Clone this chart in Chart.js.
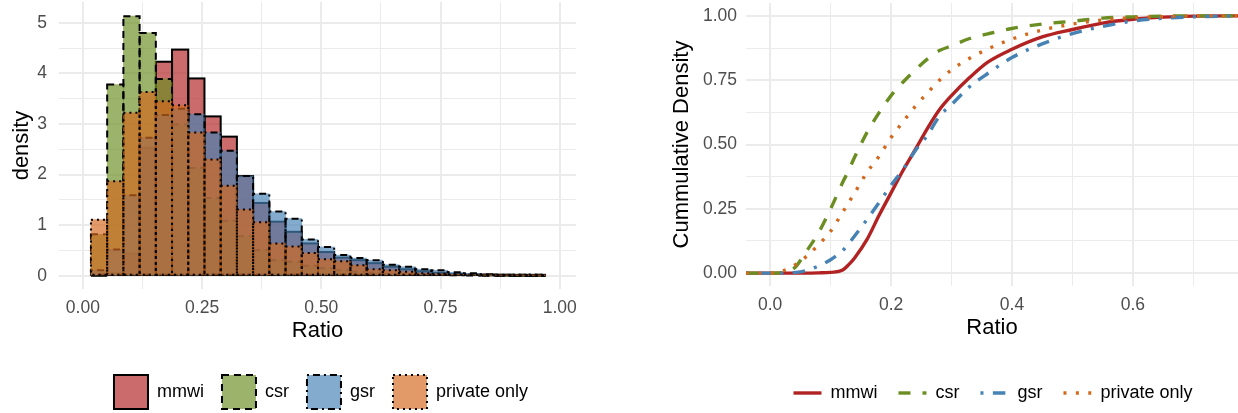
<!DOCTYPE html>
<html lang="en">
<head>
<meta charset="UTF-8">
<title>Ratio: density and cumulative density</title>
<script src="https://cdn.jsdelivr.net/npm/chart.js"></script>
<style>
  html, body { margin: 0; padding: 0; background: #fff; overflow: hidden; }
  .panel { position: absolute; top: 0; height: 413px; }
  #left { left: 0; width: 620px; }
  #right { left: 620px; width: 618px; }
</style>
</head>
<body>

<div class="panel" id="left"><canvas id="histChart"></canvas></div>
<div class="panel" id="right"><canvas id="ecdfChart"></canvas></div>

<script>
// groups, in legend order
const groups = ['mmwi', 'csr', 'gsr', 'private only'];

// histogram: bin centres and density per group
const binMids = [0.034, 0.068, 0.102, 0.136, 0.170, 0.204, 0.238, 0.272, 0.306, 0.340,
                 0.374, 0.408, 0.442, 0.476, 0.510, 0.544, 0.578, 0.612, 0.646, 0.680,
                 0.714, 0.748, 0.782, 0.816, 0.850, 0.884, 0.918, 0.952];
const mmwiDensity = [0, 0.05, 0.44, 2.53, 4.23, 4.47, 3.90, 3.15, 2.75, 1.97, 1.44, 1.07, 0.87, 0.64,
                     0.47, 0.36, 0.31, 0.25, 0.18, 0.13, 0.09, 0.06, 0.03, 0.02, 0.01, 0.005, 0.003, 0.002];
const csrDensity = [0.82, 3.78, 5.13, 4.80, 3.89, 2.99, 2.13, 1.54, 1.09, 0.78, 0.51, 0.31, 0.28, 0.20,
                    0.15, 0.11, 0.08, 0.06, 0.04, 0.03, 0.02, 0.015, 0.01, 0.005, 0.003, 0, 0, 0];
const gsrDensity = [0.11, 0.52, 1.59, 2.73, 3.18, 3.30, 3.19, 2.83, 2.47, 1.97, 1.62, 1.27, 1.13, 0.72,
                    0.57, 0.41, 0.35, 0.31, 0.22, 0.18, 0.13, 0.11, 0.07, 0.05, 0.03, 0.02, 0.01, 0.01];
const privateDensity = [1.11, 1.87, 3.22, 3.63, 3.45, 3.37, 2.83, 2.30, 1.78, 1.31, 1.06, 0.64, 0.58, 0.45,
                        0.33, 0.29, 0.21, 0.13, 0.11, 0.08, 0.05, 0.04, 0.03, 0.02, 0.01, 0.01, 0.005, 0.005];

// cumulative density, read at these ratios
const ratioGrid = [-0.04, 0, 0.02, 0.04, 0.06, 0.08, 0.10, 0.12, 0.13, 0.14, 0.16, 0.18, 0.20, 0.22,
                   0.24, 0.26, 0.28, 0.30, 0.33, 0.36, 0.40, 0.45, 0.50, 0.55, 0.60, 0.65, 0.70, 0.774];
const mmwiCdf = [0, 0, 0, 0, 0, 0.001, 0.003, 0.012, 0.033, 0.06, 0.13, 0.224, 0.312, 0.40,
                 0.48, 0.562, 0.635, 0.69, 0.76, 0.82, 0.87, 0.918, 0.947, 0.972, 0.987, 0.995, 0.999, 1];
const csrCdf = [0, 0, 0.002, 0.02, 0.085, 0.157, 0.25, 0.353, 0.40, 0.452, 0.546, 0.623, 0.69, 0.743,
                0.79, 0.832, 0.865, 0.883, 0.912, 0.93, 0.951, 0.968, 0.979, 0.991, 0.996, 0.999, 1, 1];
const gsrCdf = [0, 0, 0, 0.002, 0.01, 0.028, 0.052, 0.088, 0.115, 0.145, 0.208, 0.274, 0.341, 0.404,
                0.476, 0.535, 0.61, 0.655, 0.725, 0.776, 0.838, 0.891, 0.931, 0.959, 0.98, 0.991, 0.996, 1];
const privateCdf = [0, 0, 0.008, 0.03, 0.065, 0.11, 0.163, 0.237, 0.275, 0.313, 0.391, 0.454, 0.527, 0.589,
                    0.648, 0.70, 0.75, 0.79, 0.835, 0.871, 0.91, 0.945, 0.968, 0.984, 0.993, 0.997, 1, 1];

// styling
const lineColors = ['#B22222', '#6B8E23', '#4682B4', '#D2691E'];
const fillColors = ['rgba(178,34,34,0.67)', 'rgba(107,142,35,0.67)', 'rgba(70,130,180,0.67)', 'rgba(210,105,30,0.67)'];
const histDashes = [[], [7, 5], [2, 4, 7, 4], [2, 4]];
const lineDashes = [[], [12, 12], [3, 9.4, 12.5, 9.4], [3, 9.4]];
const gridColor = '#EBEBEB';
const tickColor = '#4D4D4D';

Chart.defaults.font.family = '"Liberation Sans", Arial, sans-serif';
Chart.defaults.color = '#000';

const isMultiple = (v, step) => Math.abs(v / step - Math.round(v / step)) < 1e-6;

// dashed/dotted black outlines, drawn right after each group's fill (like ggplot)
const histOutline = {
  id: 'histOutline',
  afterDatasetDraw(chart, args) {
    const ds = chart.data.datasets[args.index];
    const ctx = chart.ctx;
    ctx.save();
    ctx.strokeStyle = '#000';
    ctx.lineWidth = 2;
    ctx.setLineDash(ds.outlineDash);
    args.meta.data.forEach(bar => {
      const {x, y, base, width} = bar.getProps(['x', 'y', 'base', 'width'], true);
      ctx.strokeRect(x - width / 2, y, width, base - y);
    });
    ctx.restore();
  }
};

// ggplot centres the legend under the whole panel, not under the plot area
const legendShift = {
  id: 'legendShift',
  afterLayout(chart, args, opts) {
    const lg = chart.legend;
    lg.left += opts.dx; lg.right += opts.dx;
    lg.top += opts.dy; lg.bottom += opts.dy;
  }
};

const histSeries = [mmwiDensity, csrDensity, gsrDensity, privateDensity];
const cdfSeries = [mmwiCdf, csrCdf, gsrCdf, privateCdf];

new Chart(document.getElementById('histChart'), {
  type: 'bar',
  data: {
    datasets: groups.map((g, i) => ({
      label: g,
      data: binMids.map((m, j) => ({x: m, y: histSeries[i][j]})),
      backgroundColor: fillColors[i],
      borderWidth: 0,
      outlineDash: histDashes[i],
      order: groups.length - 1 - i,
      grouped: false,
      barPercentage: 1,
      categoryPercentage: 1
    }))
  },
  options: {
    responsive: true,
    maintainAspectRatio: false,
    devicePixelRatio: 1,
    animation: false,
    events: [],
    layout: { padding: { top: 2, right: 44, bottom: 7, left: 0 }, autoPadding: false },
    scales: {
      x: {
        type: 'linear', min: -0.05, max: 1.034, offset: false,
        grid: { offset: false, color: gridColor, drawTicks: false,
                lineWidth: c => isMultiple(c.tick.value, 0.25) ? 2 : 1 },
        border: { display: false },
        ticks: { stepSize: 0.125, includeBounds: false, autoSkip: false, maxRotation: 0,
                 padding: 9, color: tickColor, font: { size: 17.5 },
                 callback: v => isMultiple(v, 0.25) ? v.toFixed(2) : '' },
        title: { display: true, text: 'Ratio', font: { size: 22 }, padding: { top: 0, bottom: 0 } },
        afterFit: s => { s.height = 55; s.paddingLeft = 0; s.paddingRight = 0; }
      },
      y: {
        type: 'linear', min: -0.26, max: 5.41,
        grid: { color: gridColor, drawTicks: false,
                lineWidth: c => isMultiple(c.tick.value, 1) ? 2 : 1 },
        border: { display: false },
        ticks: { stepSize: 0.5, includeBounds: false, autoSkip: false, padding: 12,
                 color: tickColor, font: { size: 17.5 },
                 callback: v => isMultiple(v, 1) ? v.toFixed(0) : '' },
        title: { display: true, text: 'density', font: { size: 22 }, padding: { top: 8.5, bottom: 0 } },
        afterFit: s => { s.width = 59; s.paddingTop = 0; s.paddingBottom = 0; }
      }
    },
    plugins: {
      tooltip: { enabled: false },
      legendShift: { dx: 33, dy: 13 },
      legend: {
        position: 'bottom',
        labels: {
          boxWidth: 34, boxHeight: 34, padding: 18, font: { size: 18 }, color: '#000',
          generateLabels: chart => chart.data.datasets.map((ds, i) => ({
            text: ds.label, fillStyle: ds.backgroundColor, strokeStyle: '#000',
            lineWidth: 2, lineDash: ds.outlineDash, hidden: false, datasetIndex: i, fontColor: '#000'
          }))
        }
      }
    }
  },
  plugins: [histOutline, legendShift]
});

new Chart(document.getElementById('ecdfChart'), {
  type: 'line',
  data: {
    datasets: groups.map((g, i) => ({
      label: g,
      data: ratioGrid.map((r, j) => ({x: r, y: cdfSeries[i][j]})),
      borderColor: lineColors[i],
      backgroundColor: lineColors[i],
      borderWidth: 3.4,
      borderDash: lineDashes[i],
      borderCapStyle: 'butt',
      cubicInterpolationMode: 'monotone',
      pointRadius: 0,
      fill: false,
      order: groups.length - 1 - i
    }))
  },
  options: {
    responsive: true,
    maintainAspectRatio: false,
    devicePixelRatio: 1,
    animation: false,
    events: [],
    layout: { padding: { top: 3, right: 0, bottom: 23, left: 0 }, autoPadding: false },
    scales: {
      x: {
        type: 'linear', min: -0.04, max: 0.774,
        grid: { color: gridColor, drawTicks: false,
                lineWidth: c => isMultiple(c.tick.value, 0.2) ? 2 : 1 },
        border: { display: false },
        ticks: { stepSize: 0.1, includeBounds: false, autoSkip: false, maxRotation: 0,
                 padding: 9, color: tickColor, font: { size: 17.5 },
                 callback: v => isMultiple(v, 0.2) ? v.toFixed(1) : '' },
        title: { display: true, text: 'Ratio', font: { size: 22 }, padding: { top: 0, bottom: 0 } },
        afterFit: s => { s.height = 55; s.paddingLeft = 0; s.paddingRight = 0; }
      },
      y: {
        type: 'linear', min: -0.05, max: 1.05,
        grid: { color: gridColor, drawTicks: false,
                lineWidth: c => isMultiple(c.tick.value, 0.25) ? 2 : 1 },
        border: { display: false },
        ticks: { stepSize: 0.125, includeBounds: false, autoSkip: false, padding: 9,
                 color: tickColor, font: { size: 17.5 },
                 callback: v => isMultiple(v, 0.25) ? v.toFixed(2) : '' },
        title: { display: true, text: 'Cummulative Density', font: { size: 22 }, padding: { top: 49, bottom: 0 } },
        afterFit: s => { s.width = 126; s.paddingTop = 0; s.paddingBottom = 0; }
      }
    },
    plugins: {
      tooltip: { enabled: false },
      legendShift: { dx: 64, dy: 22 },
      legend: {
        position: 'bottom',
        labels: {
          usePointStyle: true, pointStyleWidth: 28, padding: 21, font: { size: 18 }, color: '#000',
          generateLabels: chart => chart.data.datasets.map((ds, i) => ({
            text: ds.label, fillStyle: ds.borderColor, strokeStyle: ds.borderColor,
            lineWidth: 3.4, lineDash: ds.borderDash, pointStyle: 'line',
            hidden: false, datasetIndex: i, fontColor: '#000'
          }))
        }
      }
    }
  },
  plugins: [legendShift]
});
</script>

</body>
</html>
